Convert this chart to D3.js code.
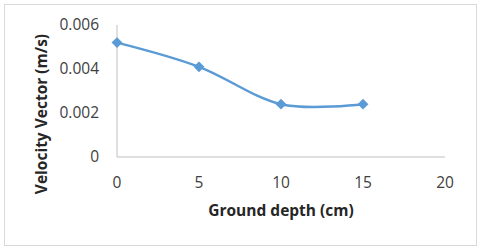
<!DOCTYPE html>
<html lang="en">
<head>
    <meta charset="UTF-8">
    <title>Velocity vector</title>
    <style>
        body { margin: 0; background: #fff; }
    </style>
</head>
<body>

    <svg id="svg" width="480" height="251"></svg>

    <script src="https://d3js.org/d3.v7.min.js"></script>
    <script>
        const depth = [0, 5, 10, 15]
        const velocity = [0.0052, 0.0041, 0.0024, 0.0024]
        const xTicks = [0, 5, 10, 15, 20]
        const yTicks = [0, 0.002, 0.004, 0.006]

        const data = depth.map((d, i) => ({ x: d, y: velocity[i] }))

        const svg = d3.select('#svg')
        const font = 'Open Sans, Liberation Sans, sans-serif'

        // chart border
        svg.append('rect')
            .attr('x', 4.5).attr('y', 4.5)
            .attr('width', 472).attr('height', 241)
            .attr('fill', '#fff')
            .attr('stroke', '#d9d9d9')

        const xScale = d3.scaleLinear()
            .domain([0, 20])
            .range([117, 445])

        const yScale = d3.scaleLinear()
            .domain([0, 0.006])
            .range([157, 25])

        // axis lines
        svg.append('line')
            .attr('x1', xScale(0)).attr('x2', xScale(0))
            .attr('y1', yScale(0.006)).attr('y2', yScale(0))
            .attr('stroke', '#bfbfbf')
        svg.append('line')
            .attr('x1', xScale(0)).attr('x2', xScale(20))
            .attr('y1', yScale(0)).attr('y2', yScale(0))
            .attr('stroke', '#bfbfbf')

        // tick labels
        svg.append('g')
            .selectAll('text')
            .data(yTicks)
            .enter()
            .append('text')
            .text(d => d === 0 ? '0' : d.toFixed(3))
            .attr('x', 99)
            .attr('y', d => yScale(d))
            .attr('dy', '0.35em')
            .attr('text-anchor', 'end')
            .style('font-family', font)
            .style('font-size', '15.5px')
            .attr('fill', '#404040')

        svg.append('g')
            .selectAll('text')
            .data(xTicks)
            .enter()
            .append('text')
            .text(d => d)
            .attr('x', d => xScale(d))
            .attr('y', 183)
            .attr('dy', '0.35em')
            .attr('text-anchor', 'middle')
            .style('font-family', font)
            .style('font-size', '15.5px')
            .attr('fill', '#404040')

        // axis titles
        svg.append('text')
            .text('Ground depth (cm)')
            .attr('x', 281)
            .attr('y', 211)
            .attr('dy', '0.35em')
            .attr('text-anchor', 'middle')
            .style('font-family', font)
            .style('font-size', '15.5px')
            .style('font-weight', 'bold')
            .attr('fill', '#262626')

        svg.append('text')
            .text('Velocity Vector (m/s)')
            .attr('transform', 'translate(42,114) rotate(-90)')
            .attr('dy', '0.35em')
            .attr('text-anchor', 'middle')
            .style('font-family', font)
            .style('font-size', '15.5px')
            .style('font-weight', 'bold')
            .attr('fill', '#262626')

        // smoothed series line
        const line = d3.line()
            .x(d => xScale(d.x))
            .y(d => yScale(d.y))
            .curve(d3.curveCardinal)

        svg.append('path')
            .datum(data)
            .attr('d', line)
            .attr('fill', 'none')
            .attr('stroke', '#5b9bd5')
            .attr('stroke-width', 2.5)

        // diamond markers
        svg.append('g')
            .selectAll('path')
            .data(data)
            .enter()
            .append('path')
            .attr('d', d3.symbol().type(d3.symbolDiamond2).size(75))
            .attr('transform', d => `translate(${xScale(d.x)},${yScale(d.y)})`)
            .attr('fill', '#5b9bd5')
    </script>
</body>
</html>
